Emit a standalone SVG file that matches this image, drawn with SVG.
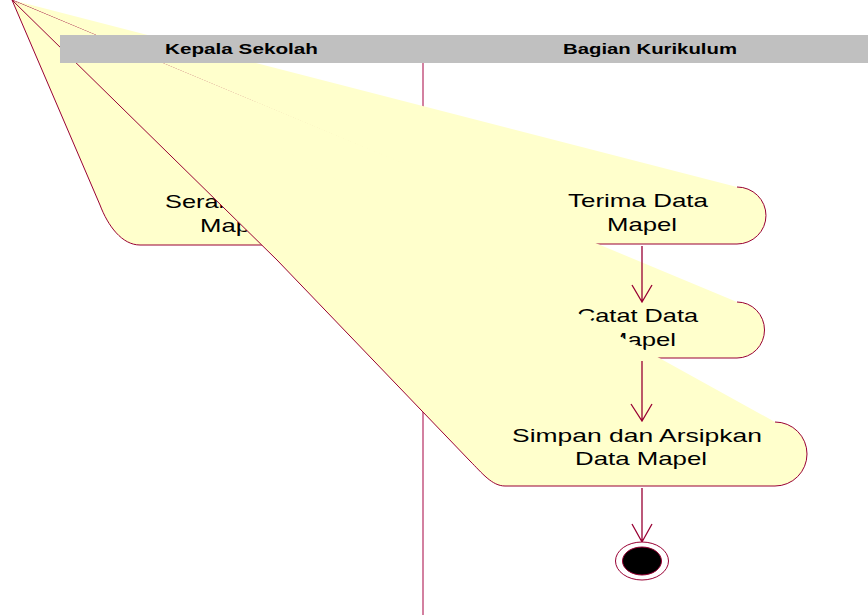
<svg xmlns="http://www.w3.org/2000/svg" width="868" height="615" viewBox="0 0 868 615">
<style>
.act{fill:#FFFFCC;stroke:#990033;stroke-width:1;stroke-linejoin:round}
.t{font-family:"Liberation Sans",Arial,sans-serif;font-size:18.5px;fill:#000}
.h{font-family:"Liberation Sans",Arial,sans-serif;font-size:15px;font-weight:bold;fill:#000}
.c{stroke:#990033;stroke-width:1.3;fill:none}
</style>
<rect x="0" y="0" width="868" height="615" fill="#FFFFFF"/>
<g id="lane-divider">
<line x1="423" y1="63" x2="423" y2="615" stroke="#C04A78" stroke-width="1.4"/>
</g>
<g id="serahkan">
<path class="act" d="M310,188 A28.5,28.5 0 0 1 310,245 L140,245 C122,245 108,226 100,205 L12,0"/>
<text class="t" x="165" y="208" textLength="169" lengthAdjust="spacingAndGlyphs">Serahkan Data</text>
<text class="t" x="200" y="232" textLength="70" lengthAdjust="spacingAndGlyphs">Mapel</text>
</g>
<g id="terima">
<path class="act" d="M737,187 A29,28.5 0 0 1 737,244 L545,244 C530,244 521,230 520,213.5 L12,0"/>
<text class="t" x="568" y="207" textLength="140" lengthAdjust="spacingAndGlyphs">Terima Data</text>
<text class="t" x="607" y="231" textLength="70" lengthAdjust="spacingAndGlyphs">Mapel</text>
</g>
<g id="catat">
<path class="act" d="M737,302 A27.5,28 0 0 1 737,358 L545,358 C530,358 518,345 517,330 L12,0"/>
<text class="t" x="577" y="322" textLength="121" lengthAdjust="spacingAndGlyphs">Catat Data</text>
<text class="t" x="606" y="346" textLength="70" lengthAdjust="spacingAndGlyphs">Mapel</text>
</g>
<g id="simpan">
<path class="act" d="M775,422 A32,32 0 0 1 775,486 L505,486 C492,486 482,473 470,461 L277,260 L12,0"/>
<text class="t" x="512" y="442" textLength="250" lengthAdjust="spacingAndGlyphs">Simpan dan Arsipkan</text>
<text class="t" x="575" y="465" textLength="132" lengthAdjust="spacingAndGlyphs">Data Mapel</text>
</g>
<g id="swimlane-header">
<rect x="60" y="35" width="808" height="28" fill="#C0C0C0"/>
<text class="h" x="165" y="54" textLength="153" lengthAdjust="spacingAndGlyphs">Kepala Sekolah</text>
<text class="h" x="563" y="54" textLength="174" lengthAdjust="spacingAndGlyphs">Bagian Kurikulum</text>
</g>
<g id="connectors">
<path class="c" d="M642,246 L642,302 M632,285 L642,302 L652,285"/>
<path class="c" d="M642,361 L642,421 M631,404 L642,421 L652,404"/>
<path class="c" d="M642,488 L642,542 M632,524 L642,542 L652,524"/>
</g>
<g id="final-state">
<ellipse cx="642" cy="561" rx="26.5" ry="19" fill="#FFFFFF" stroke="#990033" stroke-width="1"/>
<ellipse cx="642" cy="561" rx="19.5" ry="14" fill="#000000" stroke="#990033" stroke-width="1"/>
</g>
</svg>
